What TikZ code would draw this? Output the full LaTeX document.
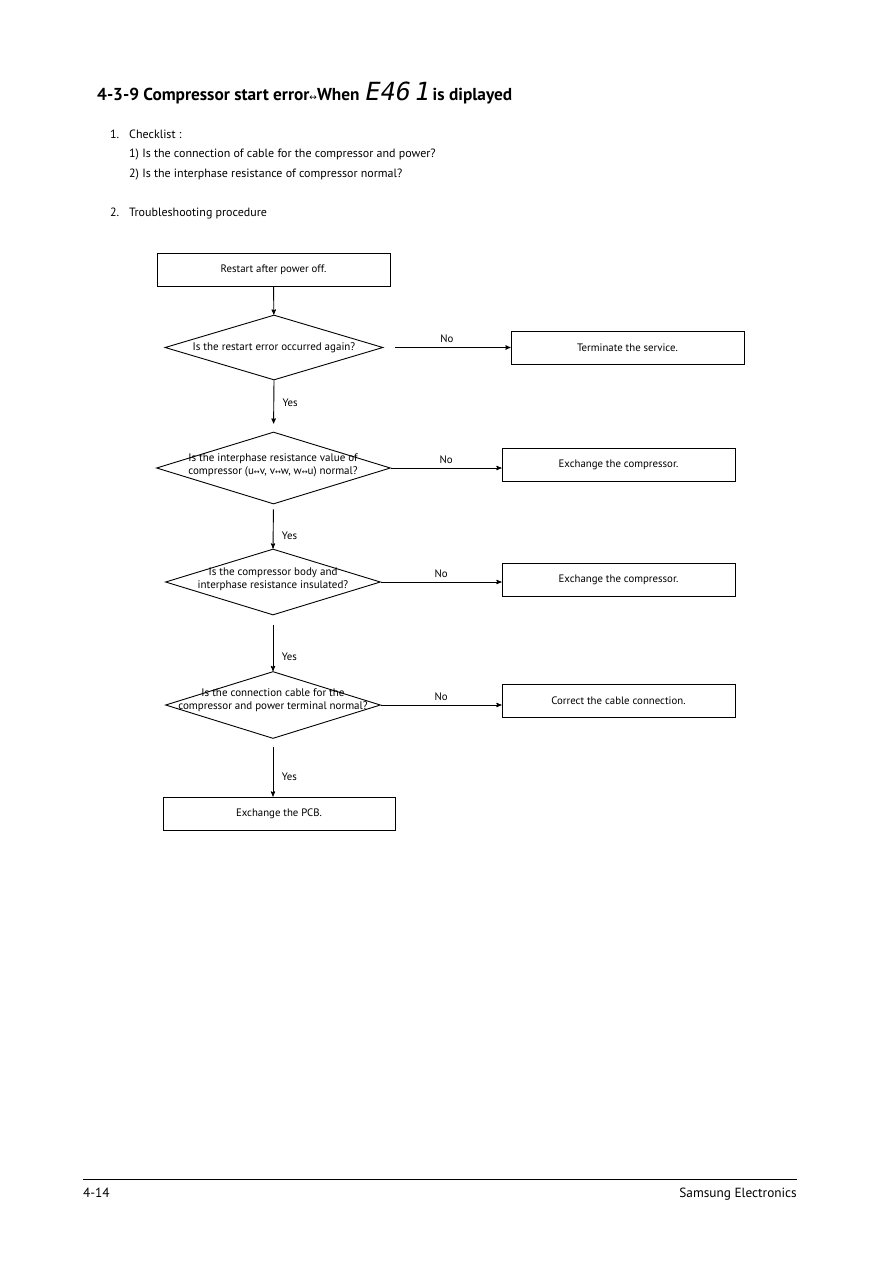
\documentclass[tikz,border=0pt]{standalone}
\usepackage{fontspec}
\setmainfont{PT Sans}
\newfontfamily\arrowfont{DejaVu Sans}
\newfontfamily\ledfont[FakeSlant=0.2]{DejaVu Sans Mono}
\usetikzlibrary{arrows,shapes.geometric,positioning}
\tikzset{
>=stealth',
  stepbox/.style={
    rectangle,
    draw=black, line width=0.9pt,
    minimum width=233pt,
    minimum height=33pt,
    text centered,
    font=\fontsize{10.8}{12}\selectfont,
    inner sep=0pt},
  decision/.style={
    diamond,
    draw=black, line width=0.9pt,
    inner sep=0pt},
  qtext/.style={
    font=\fontsize{11}{13}\selectfont,
    align=center,
    inner sep=0pt},
  line/.style={draw, line width=0.9pt, ->},
  nolabel/.style={midway, above=1pt, font=\fontsize{10.8}{12}\selectfont},
  yeslabel/.style={right=5pt, font=\fontsize{10.8}{12}\selectfont},
  bodytext/.style={anchor=base west, inner sep=0pt, font=\fontsize{12}{14}\selectfont},
}

\begin{document}
\begin{tikzpicture}[x=1pt, y=-1pt]
	\useasboundingbox[fill=white] (0,0) rectangle (893,1263);

	% header
	\node[anchor=base west, inner sep=0pt, font=\fontsize{17.3}{21}\bfseries] (title) at (97,100)
		{4-3-9 Compressor start error{\arrowfont\fontsize{9}{10}\selectfont\mdseries ↔}When
		 {\ledfont\fontsize{25}{25}\selectfont\mdseries E46\,1} is diplayed};
	\node[bodytext] (num1) at (110,138) {1.};
	\node[bodytext] (check) at (129,138) {Checklist :};
	\node[bodytext] (check1) at (129,157) {1) Is the connection of cable for the compressor and power?};
	\node[bodytext] (check2) at (129,177) {2) Is the interphase resistance of compressor normal?};
	\node[bodytext] (num2) at (110,216) {2.};
	\node[bodytext] (proc) at (129,216) {Troubleshooting procedure};

	% flowchart
	\node[stepbox] (restart) at (273.5,270) {Restart after power off.};
	\node[decision, minimum width=218pt, minimum height=65pt] (q1) at (274,347.5) {};
	\node[qtext] (q1t) at (q1) {Is the restart error occurred again?};
	\node[stepbox] (terminate) at (627.5,347.5) {Terminate the service.};

	\node[decision, minimum width=234pt, minimum height=72pt] (q2) at (273.5,468) {};
	\node[qtext] (q2t) at (273,465) {Is the interphase resistance value of\\
		compressor (u{\arrowfont\fontsize{7}{7}\selectfont ↔}v, v{\arrowfont\fontsize{7}{7}\selectfont ↔}w, w{\arrowfont\fontsize{7}{7}\selectfont ↔}u) normal?};
	\node[stepbox] (exch1) at (618.5,465) {Exchange the compressor.};

	\node[decision, minimum width=215pt, minimum height=66pt] (q3) at (273,582) {};
	\node[qtext] (q3t) at (273,579) {Is the compressor body and\\ interphase resistance insulated?};
	\node[stepbox] (exch2) at (618.5,579.5) {Exchange the compressor.};

	\node[decision, minimum width=215pt, minimum height=67pt] (q4) at (273,705) {};
	\node[qtext] (q4t) at (273,700) {Is the connection cable for the\\ compressor and power terminal normal?};
	\node[stepbox] (cable) at (618.5,700.5) {Correct the cable connection.};

	\node[stepbox, minimum width=232pt] (pcb) at (279,813.5) {Exchange the PCB.};

	\path[line] (restart) -- (q1);
	\path[line, shorten <=12pt] (q1.east) -- (q1.east -| terminate.west) node[nolabel] {No};
	\path[line, shorten >=8pt] (q1.south) -- (q2.north) node[yeslabel, pos=0.43] {Yes};
	\path[line] (q2.east) -- (q2.east -| exch1.west) node[nolabel] {No};
	\path[line, shorten <=5pt] (q2.south) -- (q3.north) node[yeslabel, pos=0.7] {Yes};
	\path[line] (q3.east) -- (q3.east -| exch2.west) node[nolabel] {No};
	\path[line, shorten <=10pt] (q3.south) -- (q4.north) node[yeslabel, pos=0.74] {Yes};
	\path[line] (q4.east) -- (q4.east -| cable.west) node[nolabel] {No};
	\path[line, shorten <=8pt] (q4.south) -- (q4.south |- pcb.north) node[yeslabel, pos=0.66] {Yes};

	% footer
	\coordinate (footl) at (83,1179);
	\coordinate (footr) at (797,1179);
	\draw[line width=0.9pt] (footl) -- (footr);
	\node[anchor=base west, inner sep=0pt, font=\fontsize{13.3}{16}\selectfont] (page) at (83,1197) {4-14};
	\node[anchor=base east, inner sep=0pt, font=\fontsize{13.3}{16}\selectfont] (brand) at (797,1197) {Samsung Electronics};
\end{tikzpicture}
\end{document}
